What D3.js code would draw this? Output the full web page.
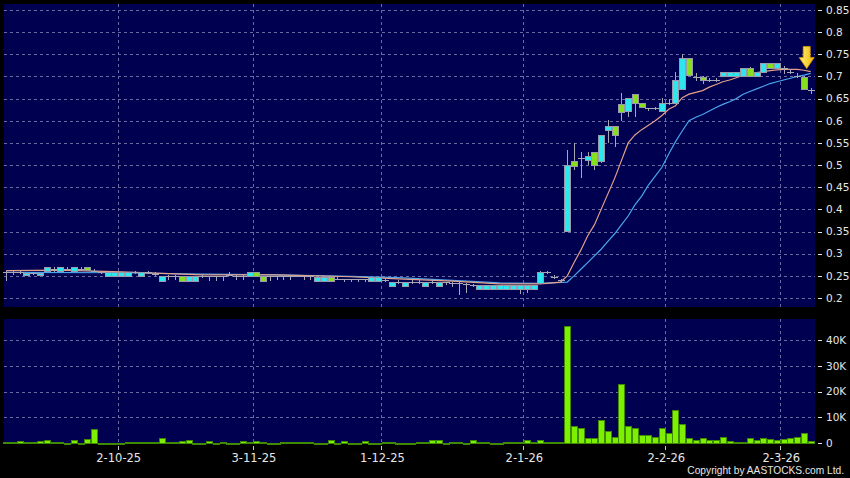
<!DOCTYPE html>
<html>
<head>
<meta charset="utf-8">
<script src="https://cdn.jsdelivr.net/npm/d3@7"></script>
<style>
  body { margin: 0; background: #000; }
  svg { display: block; }
</style>
</head>
<body>
<script>
const width = 850;
const height = 478;

// candles, one per trading day (index 0 = first visible day)
const opens = [
  0.259, 0.259, 0.259, 0.251, 0.256, 0.251, 0.259, 0.265, 0.259, 0.265,
  0.259, 0.265, 0.269, 0.262, 0.259, 0.251, 0.251, 0.251, 0.251, 0.259,
  0.251, 0.259, 0.255, 0.238, 0.249, 0.249, 0.249, 0.238, 0.238, 0.249,
  0.249, 0.249, 0.249, 0.253, 0.249, 0.249, 0.251, 0.259, 0.249, 0.249,
  0.249, 0.249, 0.249, 0.249, 0.249, 0.249, 0.238, 0.238, 0.248, 0.244,
  0.242, 0.242, 0.242, 0.242, 0.238, 0.238, 0.240, 0.229, 0.237, 0.229,
  0.237, 0.237, 0.229, 0.237, 0.229, 0.235, 0.233, 0.233, 0.232, 0.230,
  0.220, 0.220, 0.220, 0.220, 0.220, 0.220, 0.220, 0.220, 0.220, 0.233,
  0.258, 0.248, 0.240, 0.350, 0.510, 0.515, 0.511, 0.530, 0.511, 0.581,
  0.589, 0.638, 0.622, 0.660, 0.639, 0.629, 0.629, 0.622, 0.641, 0.639,
  0.672, 0.741, 0.699, 0.699, 0.692, 0.692, 0.701, 0.701, 0.701, 0.703,
  0.720, 0.703, 0.711, 0.731, 0.720, 0.718, 0.711, 0.700, 0.699, 0.669
];
const highs = [
  0.262, 0.262, 0.262, 0.256, 0.259, 0.256, 0.269, 0.269, 0.269, 0.269,
  0.269, 0.269, 0.269, 0.265, 0.262, 0.259, 0.259, 0.259, 0.259, 0.262,
  0.259, 0.262, 0.259, 0.249, 0.252, 0.252, 0.249, 0.249, 0.249, 0.252,
  0.249, 0.249, 0.249, 0.259, 0.252, 0.252, 0.259, 0.259, 0.249, 0.249,
  0.249, 0.249, 0.249, 0.252, 0.249, 0.249, 0.248, 0.248, 0.248, 0.247,
  0.244, 0.244, 0.244, 0.244, 0.248, 0.248, 0.242, 0.237, 0.240, 0.237,
  0.240, 0.240, 0.237, 0.240, 0.237, 0.237, 0.235, 0.235, 0.234, 0.232,
  0.229, 0.229, 0.229, 0.229, 0.229, 0.229, 0.229, 0.229, 0.229, 0.260,
  0.260, 0.252, 0.243, 0.534, 0.550, 0.530, 0.530, 0.530, 0.569, 0.602,
  0.589, 0.662, 0.651, 0.660, 0.639, 0.629, 0.632, 0.651, 0.650, 0.711,
  0.750, 0.741, 0.707, 0.700, 0.697, 0.697, 0.711, 0.711, 0.711, 0.720,
  0.722, 0.711, 0.731, 0.731, 0.731, 0.724, 0.716, 0.707, 0.701, 0.673
];
const lows = [
  0.238, 0.252, 0.255, 0.251, 0.252, 0.251, 0.259, 0.259, 0.259, 0.260,
  0.259, 0.262, 0.262, 0.259, 0.255, 0.251, 0.251, 0.251, 0.251, 0.255,
  0.251, 0.255, 0.249, 0.238, 0.240, 0.240, 0.238, 0.238, 0.238, 0.245,
  0.238, 0.238, 0.238, 0.249, 0.240, 0.240, 0.251, 0.251, 0.238, 0.238,
  0.240, 0.240, 0.240, 0.247, 0.240, 0.240, 0.238, 0.238, 0.238, 0.240,
  0.237, 0.237, 0.237, 0.237, 0.238, 0.238, 0.235, 0.229, 0.232, 0.229,
  0.232, 0.232, 0.229, 0.232, 0.229, 0.230, 0.225, 0.207, 0.212, 0.225,
  0.220, 0.220, 0.220, 0.220, 0.220, 0.220, 0.210, 0.212, 0.220, 0.233,
  0.254, 0.243, 0.236, 0.350, 0.489, 0.470, 0.500, 0.489, 0.505, 0.550,
  0.541, 0.600, 0.609, 0.609, 0.629, 0.622, 0.624, 0.622, 0.636, 0.639,
  0.672, 0.700, 0.689, 0.684, 0.688, 0.688, 0.701, 0.701, 0.701, 0.703,
  0.701, 0.703, 0.711, 0.720, 0.720, 0.705, 0.705, 0.696, 0.673, 0.660
];
const closes = [
  0.259, 0.259, 0.259, 0.256, 0.256, 0.256, 0.269, 0.265, 0.269, 0.265,
  0.269, 0.265, 0.262, 0.262, 0.259, 0.259, 0.259, 0.259, 0.259, 0.259,
  0.259, 0.259, 0.255, 0.249, 0.249, 0.249, 0.238, 0.249, 0.249, 0.249,
  0.249, 0.249, 0.249, 0.253, 0.249, 0.249, 0.259, 0.251, 0.238, 0.249,
  0.249, 0.249, 0.249, 0.249, 0.249, 0.249, 0.248, 0.248, 0.238, 0.244,
  0.242, 0.242, 0.242, 0.242, 0.248, 0.248, 0.240, 0.237, 0.237, 0.237,
  0.237, 0.237, 0.237, 0.237, 0.237, 0.235, 0.233, 0.233, 0.232, 0.230,
  0.229, 0.229, 0.229, 0.229, 0.229, 0.229, 0.229, 0.229, 0.229, 0.258,
  0.258, 0.248, 0.240, 0.500, 0.499, 0.515, 0.520, 0.500, 0.569, 0.589,
  0.569, 0.620, 0.651, 0.639, 0.629, 0.629, 0.629, 0.639, 0.641, 0.692,
  0.741, 0.702, 0.699, 0.692, 0.692, 0.692, 0.711, 0.711, 0.711, 0.720,
  0.701, 0.711, 0.731, 0.720, 0.731, 0.718, 0.711, 0.700, 0.673, 0.669
];
// volume in thousands of shares
const volumes = [
  0.4, 0.4, 0.8, 0.3, 0.5, 0.6, 1.0, 0.2, 0.4, 0.1,
  1.3, 0.1, 1.5, 5.6, 0.1, 0.1, 0.1, 0.1, 0.3, 0.3,
  0.3, 0.3, 0.4, 1.8, 0.3, 0.5, 0.6, 1.0, 0.1, 0.1,
  0.8, 0.1, 0.5, 0.1, 0.1, 0.9, 0.2, 0.8, 0.4, 0.1,
  0.1, 0.3, 0.3, 0.3, 0.3, 0.3, 0.1, 0.1, 1.3, 0.1,
  0.6, 0.1, 0.1, 0.8, 0.1, 0.1, 0.3, 0.3, 0.1, 0.1,
  0.1, 0.3, 0.3, 1.3, 1.3, 0.1, 0.5, 0.5, 0.1, 1.3,
  0.2, 0.2, 0.1, 0.1, 0.4, 0.5, 0.5, 1.3, 0.4, 1.0,
  0.2, 0.2, 0.2, 45.5, 6.5, 6.0, 2.0, 2.0, 9.0, 4.5,
  2.5, 23.0, 6.5, 6.0, 3.0, 3.3, 2.5, 6.0, 4.0, 13.0,
  7.5, 2.0, 1.0, 2.0, 1.0, 1.0, 2.5, 0.8, 0.2, 0.5,
  2.0, 1.0, 2.0, 1.5, 1.0, 1.5, 2.0, 2.3, 3.7, 0.8
];

// moving averages: [day index, value]
const ma10 = [
  [0, 0.262], [8, 0.263], [17, 0.259], [29, 0.252], [40, 0.252], [51, 0.248],
  [58, 0.243], [66, 0.238], [73, 0.232], [79, 0.232], [82, 0.236], [83, 0.25],
  [84, 0.28], [85, 0.308], [86, 0.34], [87, 0.365], [88, 0.40], [89, 0.435],
  [90, 0.47], [91, 0.51], [92, 0.55], [93, 0.568], [94, 0.58], [95, 0.59],
  [96, 0.60], [97, 0.612], [98, 0.626], [99, 0.634], [100, 0.652], [101, 0.66],
  [102, 0.664], [103, 0.668], [104, 0.676], [105, 0.682], [106, 0.688], [107, 0.692],
  [108, 0.697], [109, 0.703], [110, 0.706], [111, 0.709], [112, 0.711], [113, 0.713],
  [114, 0.715], [115, 0.716], [116, 0.716], [117, 0.716], [118, 0.714], [119, 0.711]
];
const ma20 = [
  [0, 0.258], [17, 0.257], [29, 0.254], [40, 0.252], [51, 0.249], [58, 0.246],
  [66, 0.240], [73, 0.234], [79, 0.233], [83, 0.236], [84, 0.25], [85, 0.265],
  [86, 0.28], [87, 0.295], [88, 0.31], [89, 0.328], [90, 0.345], [91, 0.365],
  [92, 0.385], [93, 0.41], [94, 0.43], [95, 0.455], [96, 0.475], [97, 0.495],
  [98, 0.525], [99, 0.553], [100, 0.577], [101, 0.60], [102, 0.608], [103, 0.614],
  [104, 0.622], [105, 0.630], [106, 0.637], [107, 0.643], [108, 0.65], [109, 0.66],
  [110, 0.666], [111, 0.672], [112, 0.678], [113, 0.684], [114, 0.688], [115, 0.692],
  [116, 0.696], [117, 0.70], [118, 0.703], [119, 0.707]
];

const dateTickIdx = [17, 37, 56, 77, 98, 115];
const dateTickLabels = ["2-10-25", "3-11-25", "1-12-25", "2-1-26", "2-2-26", "2-3-26"];
const priceTicks = [0.2, 0.25, 0.3, 0.35, 0.4, 0.45, 0.5, 0.55, 0.6, 0.65, 0.7, 0.75, 0.8, 0.85];
const volTicks = [0, 10, 20, 30, 40];

const plotLeft = 4;
const plotRight = 815;
const pricePanel = { top: 4, bottom: 307 };
const volPanel = { top: 319, bottom: 444 };

const colors = {
  panel: "#000050",
  grid: "#6a6aa0",
  up: "#2ee6f0",
  down: "#86e01e",
  edge: "#9a9aaa",
  wick: "#a8a8b4",
  ma10: "#e4a088",
  ma20: "#4aa6ee",
  vol: "#7cf000",
  volEdge: "#3f8a00",
  text: "#e6e6e6",
};

let svg = d3.select("body").append("svg").attr("width", width).attr("height", height);
svg.append("rect").attr("width", width).attr("height", height).attr("fill", "#000");

let n = closes.length;
let xScale = d3.scaleLinear().domain([0, n - 1]).range([6.2, 810.7]);

let yPrice = d3.scaleLinear().domain([0.2, 0.85]).range([298, 10]);
let yVol = d3.scaleLinear().domain([0, 48.2]).range([443, 319]);

// panels
[pricePanel, volPanel].forEach((p) => {
  svg.append("rect")
    .attr("x", plotLeft)
    .attr("y", p.top)
    .attr("width", plotRight - plotLeft)
    .attr("height", p.bottom - p.top)
    .attr("fill", colors.panel);
});

// grid
let grid = svg.append("g")
  .attr("stroke", colors.grid)
  .attr("stroke-width", 1)
  .attr("stroke-dasharray", "3,3")
  .attr("shape-rendering", "crispEdges");

grid.selectAll(".hp")
  .data(priceTicks)
  .join("line")
  .attr("x1", plotLeft)
  .attr("x2", plotRight)
  .attr("y1", (d) => Math.round(yPrice(d)) + 0.5)
  .attr("y2", (d) => Math.round(yPrice(d)) + 0.5);

grid.selectAll(".hv")
  .data(volTicks.slice(1))
  .join("line")
  .attr("x1", plotLeft)
  .attr("x2", plotRight)
  .attr("y1", (d) => Math.round(yVol(d)) + 0.5)
  .attr("y2", (d) => Math.round(yVol(d)) + 0.5);

[pricePanel, volPanel].forEach((p) => {
  grid.append("g")
    .selectAll("line")
    .data(dateTickIdx)
    .join("line")
    .attr("x1", (d) => Math.round(xScale(d - 0.5)) + 0.5)
    .attr("x2", (d) => Math.round(xScale(d - 0.5)) + 0.5)
    .attr("y1", p.top)
    .attr("y2", p.bottom);
});

// moving averages
let line = d3.line()
  .x((d) => xScale(d[0]))
  .y((d) => yPrice(d[1]));

svg.append("path")
  .datum(ma20)
  .attr("d", line)
  .attr("fill", "none")
  .attr("stroke", colors.ma20)
  .attr("stroke-width", 1.2);

svg.append("path")
  .datum(ma10)
  .attr("d", line)
  .attr("fill", "none")
  .attr("stroke", colors.ma10)
  .attr("stroke-width", 1.2);

// candles
let candles = d3.range(n).map((i) => ({
  i: i,
  o: opens[i],
  h: highs[i],
  l: lows[i],
  c: closes[i],
  v: volumes[i],
}));

let bodyW = 5;
let cg = svg.append("g").attr("shape-rendering", "crispEdges");

cg.selectAll(".wick")
  .data(candles)
  .join("line")
  .attr("x1", (d) => Math.round(xScale(d.i)) + 0.5)
  .attr("x2", (d) => Math.round(xScale(d.i)) + 0.5)
  .attr("y1", (d) => yPrice(d.h))
  .attr("y2", (d) => yPrice(d.l))
  .attr("stroke", colors.wick);

cg.selectAll(".doji")
  .data(candles.filter((d) => d.o === d.c))
  .join("line")
  .attr("x1", (d) => Math.round(xScale(d.i)) - 3)
  .attr("x2", (d) => Math.round(xScale(d.i)) + 4)
  .attr("y1", (d) => Math.round(yPrice(d.c)) + 0.5)
  .attr("y2", (d) => Math.round(yPrice(d.c)) + 0.5)
  .attr("stroke", colors.wick);

cg.selectAll(".body")
  .data(candles.filter((d) => d.o !== d.c))
  .join("rect")
  .attr("x", (d) => Math.round(xScale(d.i)) - 2.5)
  .attr("y", (d) => Math.round(yPrice(Math.max(d.o, d.c))) + 0.5)
  .attr("width", bodyW + 1)
  .attr("height", (d) => Math.max(2, Math.round(yPrice(Math.min(d.o, d.c)) - yPrice(Math.max(d.o, d.c)))))
  .attr("fill", (d) => (d.c > d.o ? colors.up : colors.down))
  .attr("stroke", colors.edge);

// volume bars
svg.append("g")
  .attr("shape-rendering", "crispEdges")
  .selectAll("rect")
  .data(candles)
  .join("rect")
  .attr("x", (d) => Math.round(xScale(d.i)) - 2.5)
  .attr("y", (d) => Math.round(yVol(d.v)) + 0.5)
  .attr("width", bodyW + 1)
  .attr("height", (d) => Math.max(0.5, Math.round(yVol(0) - yVol(d.v))))
  .attr("fill", colors.vol)
  .attr("stroke", colors.volEdge);

// right axes
let priceAxis = svg.append("g").attr("font-family", "DejaVu Sans").attr("font-size", 10.5).attr("fill", colors.text);
priceAxis.selectAll("text")
  .data(priceTicks)
  .join("text")
  .attr("x", 826)
  .attr("y", (d) => yPrice(d))
  .attr("dy", "0.36em")
  .text((d) => d3.format("~g")(d));
priceAxis.selectAll("line")
  .data(priceTicks)
  .join("line")
  .attr("x1", 818)
  .attr("x2", 822)
  .attr("y1", (d) => Math.round(yPrice(d)) + 0.5)
  .attr("y2", (d) => Math.round(yPrice(d)) + 0.5)
  .attr("stroke", colors.text);

let volAxis = svg.append("g").attr("font-family", "DejaVu Sans").attr("font-size", 10.5).attr("fill", colors.text);
volAxis.selectAll("text")
  .data(volTicks)
  .join("text")
  .attr("x", 826)
  .attr("y", (d) => yVol(d))
  .attr("dy", "0.36em")
  .text((d) => (d === 0 ? "0" : d + "K"));
volAxis.selectAll("line")
  .data(volTicks)
  .join("line")
  .attr("x1", 818)
  .attr("x2", 822)
  .attr("y1", (d) => Math.round(yVol(d)) + 0.5)
  .attr("y2", (d) => Math.round(yVol(d)) + 0.5)
  .attr("stroke", colors.text);

// date axis
let dateAxis = svg.append("g").attr("font-family", "DejaVu Sans").attr("font-size", 11.5).attr("fill", colors.text);
dateAxis.selectAll("line")
  .data(dateTickIdx)
  .join("line")
  .attr("x1", (d) => Math.round(xScale(d - 0.5)) + 0.5)
  .attr("x2", (d) => Math.round(xScale(d - 0.5)) + 0.5)
  .attr("y1", 446)
  .attr("y2", 450)
  .attr("stroke", "#c8c8c8");
dateAxis.selectAll("text")
  .data(dateTickIdx)
  .join("text")
  .attr("x", (d) => xScale(d - 0.5) + 1)
  .attr("y", 462)
  .attr("text-anchor", "middle")
  .text((d, k) => dateTickLabels[k]);

svg.append("text")
  .attr("x", 844)
  .attr("y", 474)
  .attr("text-anchor", "end")
  .attr("font-family", "Liberation Sans")
  .attr("font-size", 10.2)
  .attr("fill", colors.text)
  .text("Copyright by AASTOCKS.com Ltd.");

// latest-day marker arrow
let defs = svg.append("defs");
let grad = defs.append("linearGradient").attr("id", "arrowGrad").attr("x1", 0).attr("x2", 1);
grad.append("stop").attr("offset", "0%").attr("stop-color", "#fff27a");
grad.append("stop").attr("offset", "100%").attr("stop-color", "#f2b600");

let ax = xScale(n - 1) - 4;
let tip = yPrice(ma10[ma10.length - 1][1]) - 3;
svg.append("path")
  .attr("d", `M${ax - 3.5},${tip - 22} L${ax + 3.5},${tip - 22} L${ax + 3.5},${tip - 11} L${ax + 7.5},${tip - 11} L${ax},${tip} L${ax - 7.5},${tip - 11} L${ax - 3.5},${tip - 11} Z`)
  .attr("fill", "url(#arrowGrad)")
  .attr("stroke", "#d89a00")
  .attr("stroke-width", 0.8);
</script>
</body>
</html>
